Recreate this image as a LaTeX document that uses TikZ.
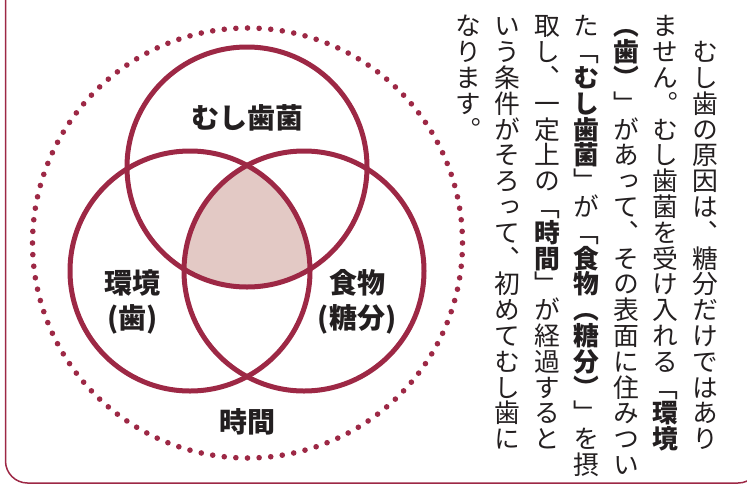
\documentclass[tikz,border=0pt]{standalone}
\usepackage{fontspec}
\setmainfont{Noto Sans CJK JP}
\newfontfamily\tatefont[RawFeature={vertical}]{Noto Sans CJK JP}
\definecolor{vennred}{HTML}{9D2845}
\definecolor{vennpink}{HTML}{E3C9C5}
\definecolor{inkgray}{HTML}{231F20}

\begin{document}
\begin{tikzpicture}[x=1pt,y=-1pt]
	\tikzset{venn/.style={draw=vennred, line width=5pt},
		vennlabel/.style={font=\fontsize{28}{30}\selectfont\bfseries, text=inkgray, inner sep=0pt},
		tatecol/.style={font=\tatefont\fontsize{25.8}{27}\selectfont, text=inkgray, rotate=-90, anchor=west, inner sep=0pt}};
	\useasboundingbox (0,0) rectangle (747,496);
	\clip (0,0) rectangle (747,496);
	\draw[vennred, line width=1.5pt, rounded corners=22pt] (5.5,-40) rectangle (760,483);
	
	\coordinate (germ) at (247,167);
	\coordinate (tooth) at (190,271);
	\coordinate (food) at (304,271);
	\coordinate (time) at (247.5,243);
	
	% common part of the three circles
	\begin{scope}
		\clip (tooth) circle[radius=120pt];
		\clip (food) circle[radius=120pt];
		\fill[vennpink] (germ) circle[radius=120pt];
	\end{scope}
	\draw[venn] (germ) circle[radius=120pt];
	\draw[venn] (tooth) circle[radius=120pt];
	\draw[venn] (food) circle[radius=120pt];
	
	% dotted ring for time
	\foreach \a in {0,3.1034,...,359} \fill[vennred] (time) ++(\a:215pt) circle(2.8pt);
	
	\node[vennlabel] (lgerm) at (247,117.5) {むし歯菌};
	\node[vennlabel] (ltooth) at (132.5,282.5) {環境};
	\node[vennlabel] (ltootha) at (132.5,319) {(歯)};
	\node[vennlabel] (lfood) at (357.5,282.5) {食物};
	\node[vennlabel] (lfooda) at (357,319) {(糖分)};
	\node[vennlabel] (ltime) at (247,422) {時間};
	
	\node[tatecol] (col1) at (715,13) {　むし歯の原因は、糖分だけではあり};
	\node[tatecol] (col2) at (675.5,13) {ません。むし歯菌を受け入れる「{\bfseries 環境}};
	\node[tatecol] (col3) at (636,13) {{\bfseries （歯）}」があって、その表面に住みつい};
	\node[tatecol] (col4) at (596.5,13) {た「{\bfseries むし歯菌}」が「{\bfseries 食物（糖分）}」を摂};
	\node[tatecol] (col5) at (557,13) {取し、一定上の「{\bfseries 時間}」が経過すると};
	\node[tatecol] (col6) at (517.5,13) {いう条件がそろって、初めてむし歯に};
	\node[tatecol] (col7) at (478,13) {なります。};
\end{tikzpicture}
\end{document}
